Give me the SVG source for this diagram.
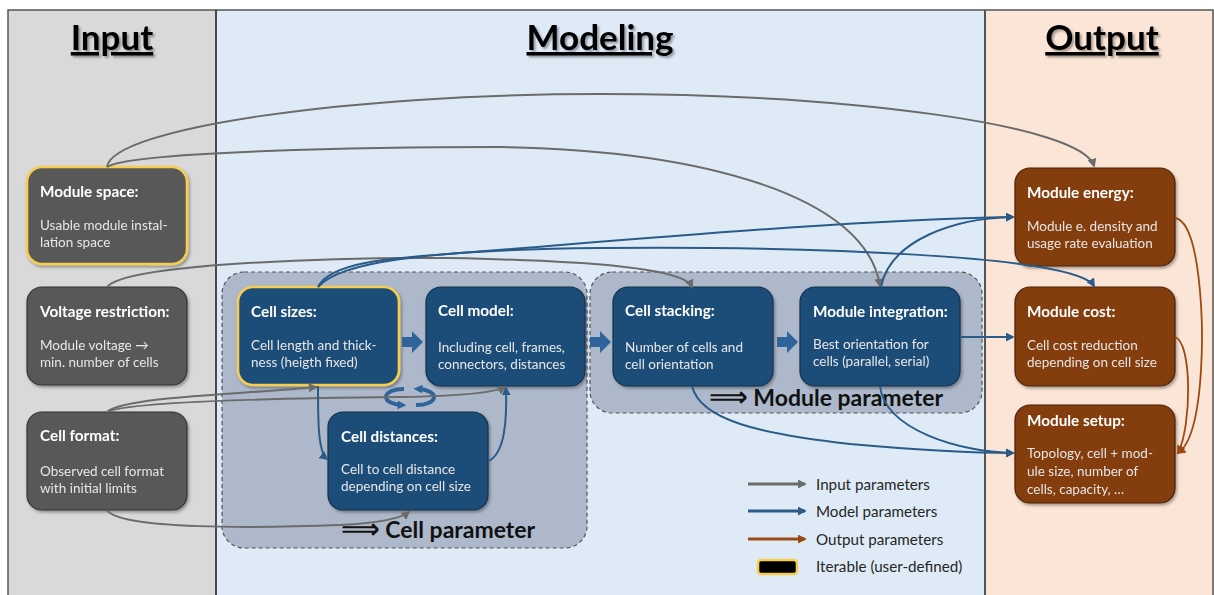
<svg xmlns="http://www.w3.org/2000/svg" width="1214" height="595" viewBox="0 0 1214 595">
<defs>
<style>
.col-title{font-family:Lato,"Liberation Sans",sans-serif;font-weight:700;font-size:35px;fill:#000;text-anchor:middle;text-decoration:underline;}
.nt{font-family:Lato,"Liberation Sans",sans-serif;font-weight:700;font-size:15.3px;fill:#fff;}
.nb{font-family:Lato,"Liberation Sans",sans-serif;font-size:13.5px;fill:#e6e6e6;}
.grp-label{font-family:Lato,"DejaVu Sans",sans-serif;font-weight:700;font-size:23px;fill:#111;}
.leg{font-family:Lato,"Liberation Sans",sans-serif;font-size:15.2px;fill:#262626;}
.gray-node{fill:#595959;stroke:#333;stroke-width:1.2;}
.blue-node{fill:#1f4e79;stroke:#12304c;stroke-width:1.2;}
.brown-node{fill:#843c0c;stroke:#4a2208;stroke-width:1.2;}
.iter{stroke:#f6cd4f;stroke-width:2.6;}
.grp{fill:#adb9ca;stroke:#555;stroke-width:1.2;stroke-dasharray:4 3;}
.cg{fill:none;stroke:#6b6b6b;stroke-width:2;}
.cb{fill:none;stroke:#2b5b89;stroke-width:2;}
.co{fill:none;stroke:#9a4a14;stroke-width:1.8;}
.blk{fill:#2e6499;}
</style>
<marker id="ag" viewBox="0 0 10 10" refX="8" refY="5" markerWidth="9" markerHeight="9" markerUnits="userSpaceOnUse" orient="auto"><path d="M0,0 L10,5 L0,10 z" fill="#6b6b6b"/></marker>
<marker id="ab" viewBox="0 0 10 10" refX="8" refY="5" markerWidth="9" markerHeight="9" markerUnits="userSpaceOnUse" orient="auto"><path d="M0,0 L10,5 L0,10 z" fill="#2b5b89"/></marker>
<marker id="ao" viewBox="0 0 10 10" refX="8" refY="5" markerWidth="9" markerHeight="9" markerUnits="userSpaceOnUse" orient="auto"><path d="M0,0 L10,5 L0,10 z" fill="#9a4a14"/></marker>
<marker id="ac" viewBox="0 0 10 10" refX="5" refY="5" markerWidth="9" markerHeight="9" markerUnits="userSpaceOnUse" orient="auto"><path d="M0,0 L10,5 L0,10 z" fill="#2e6499"/></marker>
<filter id="sh" x="-10%" y="-10%" width="130%" height="130%"><feDropShadow dx="1.5" dy="2" stdDeviation="1.8" flood-color="#000" flood-opacity="0.35"/></filter>
<filter id="tsh" x="-10%" y="-20%" width="130%" height="150%"><feDropShadow dx="2" dy="2" stdDeviation="1.2" flood-color="#000" flood-opacity="0.35"/></filter>
</defs>

<!-- columns -->
<g id="columns">
<rect x="8" y="10" width="208" height="590" fill="#d9d9d9"/>
<rect x="216" y="10" width="769" height="590" fill="#deebf7"/>
<rect x="985" y="10" width="229" height="590" fill="#fbe5d6"/>
<path d="M8,600 V10 H1213 V600" fill="none" stroke="#555" stroke-width="1.5"/>
<line x1="216" y1="10" x2="216" y2="600" stroke="#222" stroke-width="1.6"/>
<line x1="985" y1="10" x2="985" y2="600" stroke="#555" stroke-width="2"/>
<text class="col-title" x="112" y="50" filter="url(#tsh)">Input</text>
<text class="col-title" x="600" y="50" filter="url(#tsh)">Modeling</text>
<text class="col-title" x="1102" y="50" filter="url(#tsh)">Output</text>
</g>

<!-- groups -->
<g id="cell-parameter">
<rect class="grp" x="222" y="272" width="365" height="276" rx="22"/>
<text class="grp-label" x="341" y="538"><tspan font-size="27">⟹</tspan> Cell parameter</text>
</g>
<g id="module-parameter">
<rect class="grp" x="590" y="272" width="392" height="141" rx="22"/>
<text class="grp-label" x="709" y="406"><tspan font-size="27">⟹</tspan> Module parameter</text>
</g>

<!-- nodes -->
<g id="module-space" filter="url(#sh)">
<rect class="gray-node iter" x="27" y="167" width="160" height="97" rx="15"/>
<text class="nt" x="40" y="197">Module space:</text>
<text class="nb" x="40" y="230">Usable module instal-</text>
<text class="nb" x="40" y="247">lation space</text>
</g>
<g id="voltage-restriction" filter="url(#sh)">
<rect class="gray-node" x="27" y="287" width="160" height="98" rx="15"/>
<text class="nt" x="40" y="317">Voltage restriction:</text>
<text class="nb" x="40" y="350">Module voltage →</text>
<text class="nb" x="40" y="367">min. number of cells</text>
</g>
<g id="cell-format" filter="url(#sh)">
<rect class="gray-node" x="27" y="412" width="160" height="98" rx="15"/>
<text class="nt" x="40" y="441">Cell format:</text>
<text class="nb" x="40" y="476">Observed cell format</text>
<text class="nb" x="40" y="493">with initial limits</text>
</g>
<g id="cell-sizes" filter="url(#sh)">
<rect class="blue-node iter" x="238" y="287" width="161" height="98" rx="15"/>
<text class="nt" x="251" y="317">Cell sizes:</text>
<text class="nb" x="251" y="350">Cell length and thick-</text>
<text class="nb" x="251" y="367">ness (heigth fixed)</text>
</g>
<g id="cell-model" filter="url(#sh)">
<rect class="blue-node" x="426" y="287" width="159" height="99" rx="15"/>
<text class="nt" x="438" y="316">Cell model:</text>
<text class="nb" x="438" y="352">Including cell, frames,</text>
<text class="nb" x="438" y="369">connectors, distances</text>
</g>
<g id="cell-distances" filter="url(#sh)">
<rect class="blue-node" x="328" y="412" width="160" height="98" rx="15"/>
<text class="nt" x="341" y="442">Cell distances:</text>
<text class="nb" x="341" y="474">Cell to cell distance</text>
<text class="nb" x="341" y="491">depending on cell size</text>
</g>
<g id="cell-stacking" filter="url(#sh)">
<rect class="blue-node" x="613" y="287" width="160" height="99" rx="15"/>
<text class="nt" x="625" y="316">Cell stacking:</text>
<text class="nb" x="625" y="352">Number of cells and</text>
<text class="nb" x="625" y="369">cell orientation</text>
</g>
<g id="module-integration" filter="url(#sh)">
<rect class="blue-node" x="800" y="287" width="160" height="99" rx="15"/>
<text class="nt" x="813" y="317">Module integration:</text>
<text class="nb" x="813" y="349">Best orientation for</text>
<text class="nb" x="813" y="366">cells (parallel, serial)</text>
</g>
<g id="module-energy" filter="url(#sh)">
<rect class="brown-node" x="1015" y="168" width="160" height="98" rx="15"/>
<text class="nt" x="1027" y="198">Module energy:</text>
<text class="nb" x="1027" y="231">Module e. density and</text>
<text class="nb" x="1027" y="248">usage rate evaluation</text>
</g>
<g id="module-cost" filter="url(#sh)">
<rect class="brown-node" x="1015" y="287" width="160" height="99" rx="15"/>
<text class="nt" x="1027" y="317">Module cost:</text>
<text class="nb" x="1027" y="350">Cell cost reduction</text>
<text class="nb" x="1027" y="367">depending on cell size</text>
</g>
<g id="module-setup" filter="url(#sh)">
<rect class="brown-node" x="1015" y="405" width="160" height="98" rx="15"/>
<text class="nt" x="1027" y="426">Module setup:</text>
<text class="nb" x="1027" y="458">Topology, cell + mod-</text>
<text class="nb" x="1027" y="476">ule size, number of</text>
<text class="nb" x="1027" y="494">cells, capacity, …</text>
</g>

<!-- connectors -->
<g id="connectors">
<!-- block arrows -->
<path class="blk" d="M402,337 H412 V331 L423,342 L412,353 V347 H402 z"/>
<path class="blk" d="M590,337 H600 V331 L611,342 L600,353 V347 H590 z"/>
<path class="blk" d="M777,337 H787 V331 L798,342 L787,353 V347 H777 z"/>
<!-- cycle -->
<path d="M404,389 A17,8 0 0 0 402,405" fill="none" stroke="#2e6499" stroke-width="4" marker-end="url(#ac)"/>
<path d="M416,405 A17,8 0 0 0 418,389" fill="none" stroke="#2e6499" stroke-width="4" marker-end="url(#ac)"/>

<!-- input (gray) -->
<path class="cg" d="M107,167 C112,128 350,94 600,94 C850,94 1082,125 1094,166" marker-end="url(#ag)"/>
<path class="cg" d="M107,167 C130,151 380,147 500,147 C700,150 866,195 880,286" marker-end="url(#ag)"/>
<path class="cg" d="M107,287 C125,264 330,257 450,258 C590,261 684,268 692,287" marker-end="url(#ag)"/>
<path class="cg" d="M107,412 C125,396 250,394 316,387" marker-end="url(#ag)"/>
<path class="cg" d="M107,412 C130,401 300,398 400,397 C460,396 496,392 505,387" marker-end="url(#ag)"/>
<path class="cg" d="M107,510 C120,530 260,528 340,525 C380,523 400,519 409,512" marker-end="url(#ag)"/>

<!-- model (blue) -->
<path class="cb" d="M318,287 C330,262 390,258 460,253 C650,238 850,220 1013,217" marker-end="url(#ab)"/>
<path class="cb" d="M318,287 C338,263 420,250 600,248 C800,246 1075,255 1094,286" marker-end="url(#ab)"/>
<path class="cb" d="M881,287 C890,240 955,218 1013,217" marker-end="url(#ab)"/>
<path class="cb" d="M960,337 H1013" marker-end="url(#ab)"/>
<path class="cb" d="M692,386 C700,420 760,434 850,444 C930,451 980,453 1013,453" marker-end="url(#ab)"/>
<path class="cb" d="M880,386 C885,430 960,452 1013,453" marker-end="url(#ab)"/>
<path class="cb" d="M318,386 C318,420 318,452 327,459" marker-end="url(#ab)"/>
<path class="cb" d="M489,461 C505,452 507,420 506,388" marker-end="url(#ab)"/>

<!-- output (brown) -->
<path class="co" d="M1175,218 C1200,222 1204,320 1201,370 C1198,420 1190,445 1178,453" marker-end="url(#ao)"/>
<path class="co" d="M1175,337 C1192,342 1192,425 1178,453" marker-end="url(#ao)"/>
</g>

<!-- legend -->
<g id="legend">
<line x1="748" y1="484" x2="805" y2="484" stroke="#6b6b6b" stroke-width="3" marker-end="url(#ag)"/>
<line x1="748" y1="511" x2="805" y2="511" stroke="#2b5b89" stroke-width="3" marker-end="url(#ab)"/>
<line x1="748" y1="539" x2="805" y2="539" stroke="#9a4a14" stroke-width="3" marker-end="url(#ao)"/>
<rect x="758" y="560" width="39" height="14" rx="3" fill="#000" class="iter"/>
<text class="leg" x="816" y="490">Input parameters</text>
<text class="leg" x="816" y="517">Model parameters</text>
<text class="leg" x="816" y="545">Output parameters</text>
<text class="leg" x="816" y="572">Iterable (user-defined)</text>
</g>
</svg>
